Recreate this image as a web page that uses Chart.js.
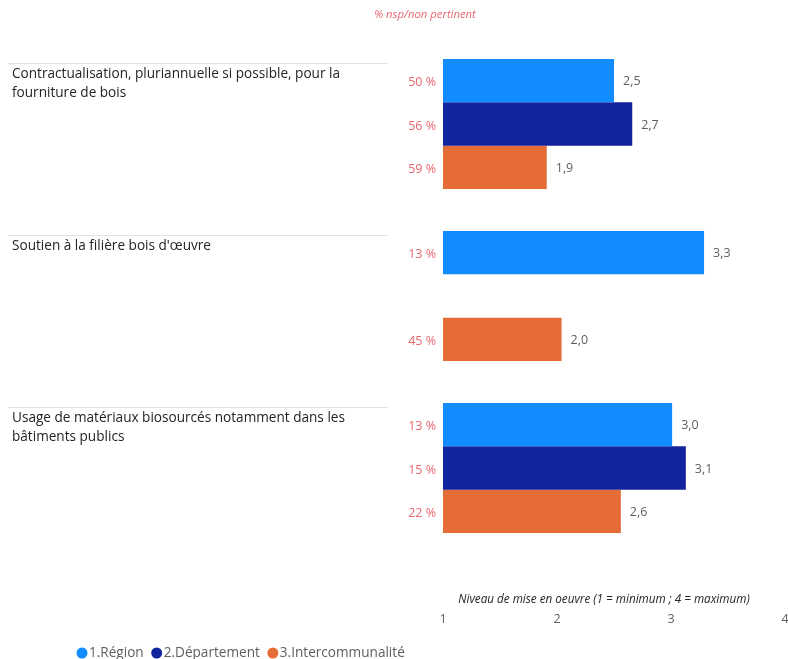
<!DOCTYPE html>
<html>
<head>
<meta charset="utf-8">
<script src="https://cdn.jsdelivr.net/npm/chart.js@4"></script>
<style>
  html, body { margin: 0; padding: 0; background: #fff; }
  #wrap { width: 788px; height: 659px; position: relative; }
</style>
</head>
<body>
<div id="wrap"><canvas id="chart" width="788" height="659"></canvas></div>
<script>
const categories = [
  ["Contractualisation, pluriannuelle si possible, pour la", "fourniture de bois"],
  ["Soutien à la filière bois d'œuvre"],
  ["Usage de matériaux biosourcés notamment dans les", "bâtiments publics"]
];
const seriesNames = ["1.Région", "2.Département", "3.Intercommunalité"];
// values (labels show them rounded to 1 decimal)
const regionValues = [2.50, 3.29, 3.01];
const departementValues = [2.66, null, 3.13];
const intercoValues = [1.91, 2.04, 2.56];
const regionNsp = ["50 %", "13 %", "13 %"];
const departementNsp = ["56 %", null, "15 %"];
const intercoNsp = ["59 %", "45 %", "22 %"];
const xTicks = [1, 2, 3, 4];
const colors = ["#118DFF", "#12239E", "#E66C37"];

const FONT = "'Segoe UI', 'Open Sans', sans-serif";
const nspLabels = [regionNsp, departementNsp, intercoNsp];
const CAT_PCT = 0.756;

const overlay = {
  id: "overlay",
  afterDatasetsDraw(chart) {
    const ctx = chart.ctx;
    const y = chart.scales.y;
    const area = chart.chartArea;
    const band = (area.bottom - area.top) / categories.length;
    ctx.save();

    // category labels + separator lines
    categories.forEach((lines, i) => {
      const top = y.getPixelForValue(i) - band * CAT_PCT / 2;
      ctx.strokeStyle = "#E1E1E1";
      ctx.lineWidth = 1;
      ctx.beginPath();
      ctx.moveTo(8, Math.round(top + 4) + 0.5);
      ctx.lineTo(388, Math.round(top + 4) + 0.5);
      ctx.stroke();
      ctx.fillStyle = "#252423";
      ctx.font = "13.6px " + FONT;
      ctx.textAlign = "left";
      ctx.textBaseline = "middle";
      lines.forEach((t, k) => ctx.fillText(t, 12, top + 15 + k * 19));
    });

    // value labels + % nsp
    chart.data.datasets.forEach((ds, d) => {
      const meta = chart.getDatasetMeta(d);
      ds.data.forEach((v, i) => {
        if (v === null) return;
        const bar = meta.data[i];
        ctx.font = "12.5px " + FONT;
        ctx.textBaseline = "middle";
        ctx.fillStyle = "#605E5C";
        ctx.textAlign = "left";
        ctx.fillText(v.toFixed(1).replace(".", ","), bar.x + 9, bar.y + 1);
        const p = nspLabels[d][i];
        if (p) {
          ctx.fillStyle = "#E8676E";
          ctx.textAlign = "right";
          ctx.fillText(p, 436, bar.y + 2);
        }
      });
    });

    // header and axis title
    ctx.font = "italic 11.3px " + FONT;
    ctx.fillStyle = "#E8676E";
    ctx.textAlign = "center";
    ctx.fillText("% nsp/non pertinent", 425, 15);
    ctx.font = "italic 11.7px " + FONT;
    ctx.fillStyle = "#252423";
    ctx.fillText("Niveau de mise en oeuvre (1 = minimum ; 4 = maximum)", 604, 600);

    // legend
    let lx = 77;
    const ly = 653;
    ctx.font = "13.6px " + FONT;
    ctx.textAlign = "left";
    seriesNames.forEach((name, d) => {
      ctx.fillStyle = colors[d];
      ctx.beginPath();
      ctx.arc(lx + 5, ly, 5.5, 0, Math.PI * 2);
      ctx.fill();
      ctx.fillStyle = "#605E5C";
      ctx.fillText(name, lx + 12, ly);
      lx += 12 + ctx.measureText(name).width + 8;
    });
    ctx.restore();
  }
};

new Chart(document.getElementById("chart"), {
  type: "bar",
  data: {
    labels: categories,
    datasets: [
      { label: seriesNames[0], data: regionValues, backgroundColor: colors[0] },
      { label: seriesNames[1], data: departementValues, backgroundColor: colors[1] },
      { label: seriesNames[2], data: intercoValues, backgroundColor: colors[2] }
    ]
  },
  options: {
    indexAxis: "y",
    responsive: false,
    animation: false,
    maintainAspectRatio: false,
    base: 1,
    barPercentage: 1,
    categoryPercentage: CAT_PCT,
    layout: { padding: { left: 443, top: 38, right: 3, bottom: 21 } },
    scales: {
      x: {
        min: 1,
        max: 4,
        grid: { display: false, drawTicks: false },
        border: { display: false },
        afterBuildTicks: (s) => { s.ticks = xTicks.map(v => ({ value: v })); },
        afterFit: (s) => { s.height = 84; s.paddingLeft = 0; s.paddingRight = 0; },
        ticks: {
          padding: 58,
          color: "#605E5C",
          font: { size: 12.5, family: FONT },
          maxRotation: 0
        }
      },
      y: { display: false }
    },
    plugins: {
      legend: { display: false },
      tooltip: { enabled: false }
    }
  },
  plugins: [overlay]
});
</script>
</body>
</html>
